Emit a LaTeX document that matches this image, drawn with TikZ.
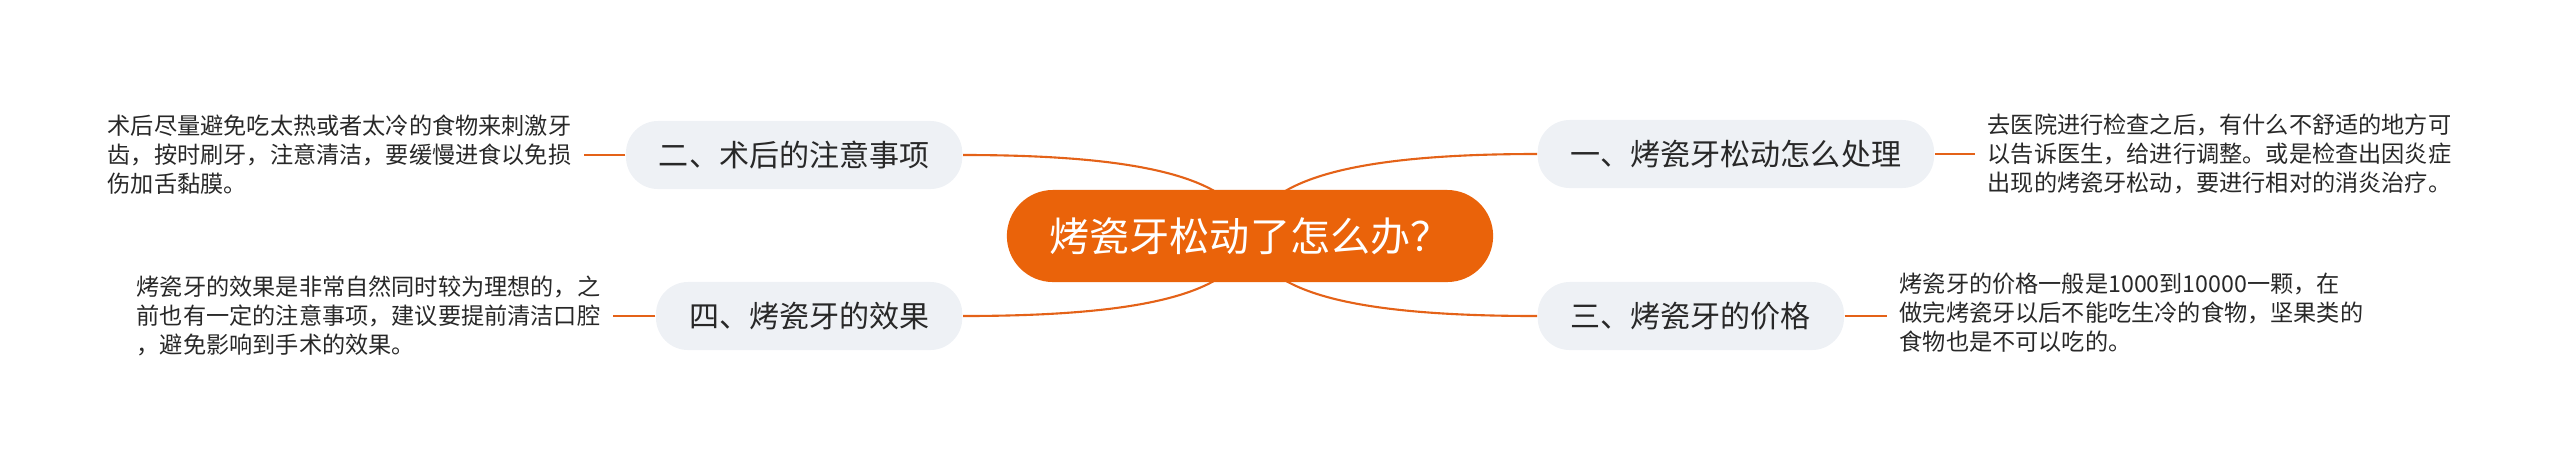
\documentclass[tikz,border=0pt]{standalone}
\usepackage{fontspec}
\setmainfont{Noto Sans CJK SC}
\definecolor{rootorange}{RGB}{234,99,10}
\definecolor{lineorange}{RGB}{228,98,24}
\definecolor{branchgray}{RGB}{238,241,245}
\definecolor{textgray}{RGB}{40,40,40}

\begin{document}
\begin{tikzpicture}[x=0.01cm, y=-0.01cm,
  root/.style={fill=rootorange, text=white, rounded corners=0.46cm,
    minimum width=4.86cm, minimum height=0.92cm, inner sep=0pt,
    font=\fontsize{11.4pt}{13pt}\selectfont},
  branch/.style={fill=branchgray, text=textgray, rounded corners=0.32cm,
    minimum height=0.68cm, inner xsep=0.33cm, inner ysep=0pt,
    font=\fontsize{8.54pt}{10pt}\selectfont},
  leaf/.style={text=textgray, align=left, inner xsep=0.12cm, inner ysep=0pt,
    font=\fontsize{6.59pt}{8.25pt}\selectfont},
  link/.style={draw=lineorange, line width=0.6pt},
  stub/.style={draw=lineorange, line width=0.8pt}]
  \useasboundingbox (0,0) rectangle (2560,472);

  \coordinate (C) at (1250,236);
  \node [branch, anchor=west] (B1) at (1537,154) {一、烤瓷牙松动怎么处理};
  \node [branch, anchor=east] (B2) at (963,155) {二、术后的注意事项};
  \node [branch, anchor=west] (B3) at (1537,316) {三、烤瓷牙的价格};
  \node [branch, anchor=east] (B4) at (963,316) {四、烤瓷牙的效果};
  \draw [link] (C) .. controls (1260,180) and (1350,154) .. (B1.west);
  \draw [link] (C) .. controls (1240,180) and (1150,155) .. (B2.east);
  \draw [link] (C) .. controls (1260,292) and (1350,316) .. (B3.west);
  \draw [link] (C) .. controls (1240,292) and (1150,316) .. (B4.east);
  \node [root] (R) at (C) {烤瓷牙松动了怎么办？};

  \node [leaf, anchor=west] (L1) at (1975,154) {去医院进行检查之后，有什么不舒适的地方可\\以告诉医生，给进行调整。或是检查出因炎症\\出现的烤瓷牙松动，要进行相对的消炎治疗。};
  \node [leaf, anchor=east] (L2) at (584,155) {术后尽量避免吃太热或者太冷的食物来刺激牙\\齿，按时刷牙，注意清洁，要缓慢进食以免损\\伤加舌黏膜。};
  \node [leaf, anchor=west] (L3) at (1887,313) {烤瓷牙的价格一般是1000到10000一颗，在\\做完烤瓷牙以后不能吃生冷的食物，坚果类的\\食物也是不可以吃的。};
  \node [leaf, anchor=east] (L4) at (613,316) {烤瓷牙的效果是非常自然同时较为理想的，之\\前也有一定的注意事项，建议要提前清洁口腔\\，避免影响到手术的效果。};
  \draw [stub] (B1.east) -- (L1.west);
  \draw [stub] (B2.west) -- (L2.east);
  \draw [stub] (B3.east) -- (B3.east -| L3.west);
  \draw [stub] (B4.west) -- (L4.east);
\end{tikzpicture}
\end{document}
